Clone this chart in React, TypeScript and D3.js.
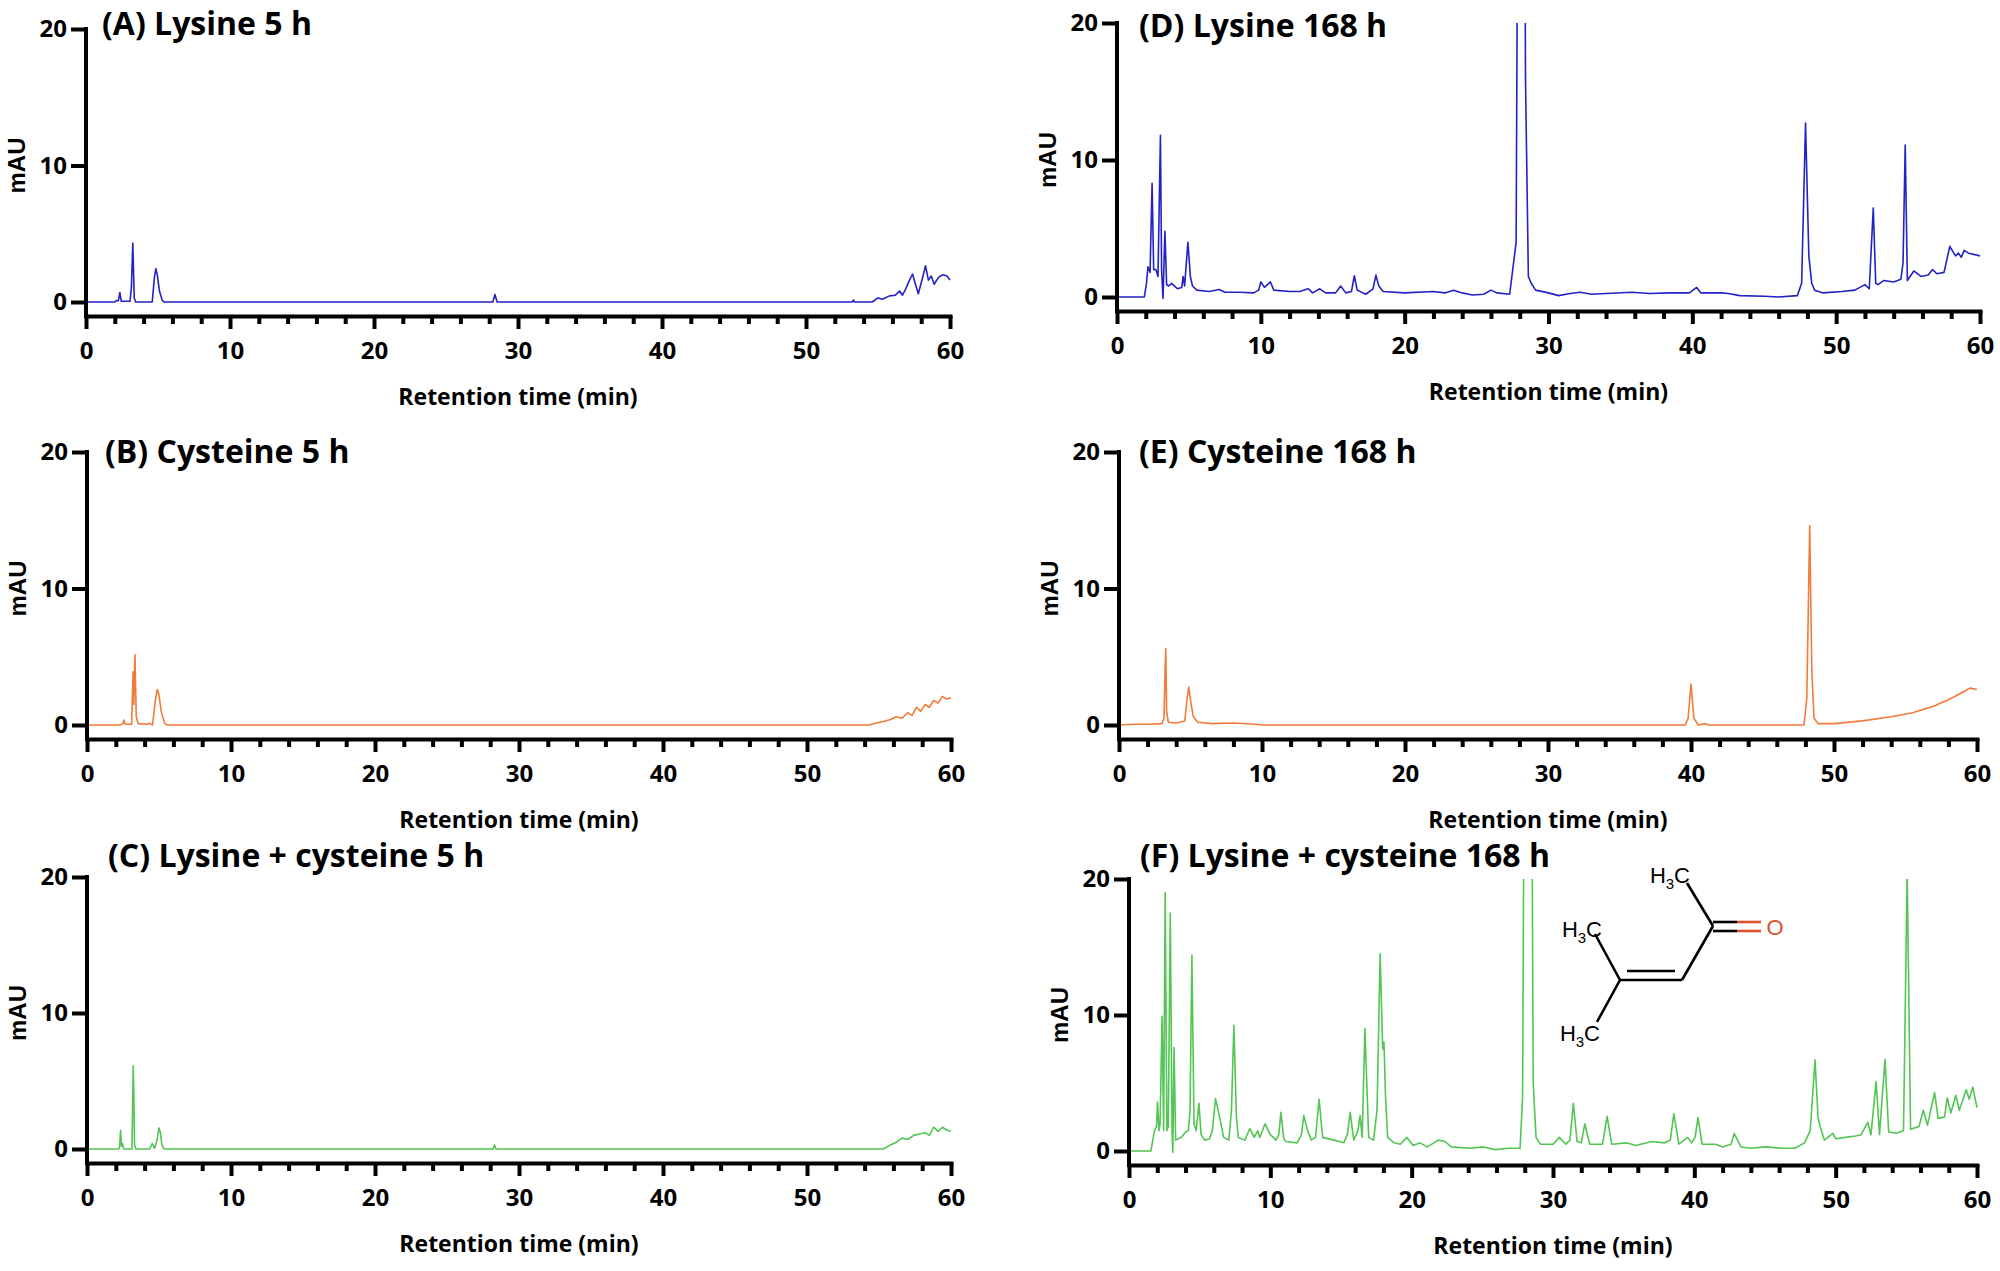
import React, { useEffect, useRef } from 'react';
import * as d3 from 'd3';

type Pt = [number, number]; // [retention time (min), absorbance (mAU)]

// (A) Lysine 5 h
const lysine5h: Pt[] = [
  [0, 0], [2.0, 0], [2.1, 0.1], [2.25, 0.1], [2.35, 0.7], [2.45, 0.05], [3.05, 0.05], [3.15, 1.0],
  [3.25, 4.3], [3.35, 0.3], [3.45, 0], [4.6, 0], [4.75, 1.8], [4.85, 2.45], [4.95, 2.0], [5.1, 0.8],
  [5.3, 0.1], [5.45, 0], [28.25, 0], [28.4, 0.55], [28.55, 0], [53.2, 0], [53.3, 0.15], [53.35, 0],
  [54.6, 0], [55.0, 0.3], [55.3, 0.2], [55.8, 0.45], [56.2, 0.5], [56.5, 0.8], [56.7, 0.5], [56.9, 0.9],
  [57.1, 1.4], [57.4, 2.05], [57.6, 1.3], [57.8, 0.6], [58.1, 1.8], [58.3, 2.65], [58.5, 1.6], [58.7, 1.9],
  [58.9, 1.3], [59.2, 1.8], [59.5, 2.0], [59.8, 1.9], [60, 1.6],
];

// (B) Cysteine 5 h
const cysteine5h: Pt[] = [
  [0, 0], [2.3, 0], [2.5, 0.1], [2.56, 0.37], [2.65, 0.05], [3.1, 0.05], [3.2, 3.9], [3.25, 1.5],
  [3.33, 5.15], [3.42, 0.6], [3.55, 0.1], [4.2, 0.05], [4.37, 0.12], [4.55, 0], [4.75, 1.8], [4.88, 2.6],
  [5.0, 2.2], [5.15, 1.0], [5.4, 0.1], [5.6, 0], [54.3, 0], [54.8, 0.15], [55.3, 0.25], [55.8, 0.4],
  [56.2, 0.6], [56.6, 0.5], [57.0, 0.9], [57.3, 0.7], [57.6, 1.3], [57.9, 1.0], [58.2, 1.5], [58.5, 1.3],
  [58.8, 1.8], [59.1, 1.6], [59.4, 2.1], [59.7, 1.9], [60, 2.0],
];

// (C) Lysine + cysteine 5 h
const mix5h: Pt[] = [
  [0, 0], [2.2, 0], [2.27, 0.2], [2.33, 1.37], [2.4, 0.2], [2.46, 0.4], [2.55, 0], [3.12, 0],
  [3.18, 4.0], [3.21, 6.1], [3.25, 4.2], [3.3, 0.3], [3.4, 0], [4.35, 0], [4.53, 0.4], [4.7, 0.05],
  [4.85, 0.6], [5.0, 1.55], [5.1, 1.2], [5.2, 0.3], [5.35, 0], [28.2, 0], [28.3, 0.3], [28.4, 0],
  [55.3, 0], [55.8, 0.3], [56.2, 0.5], [56.6, 0.8], [57.0, 0.7], [57.4, 1.0], [57.8, 1.1], [58.2, 1.2],
  [58.5, 1.0], [58.8, 1.6], [59.1, 1.3], [59.4, 1.6], [59.7, 1.4], [60, 1.3],
];

// (D) Lysine 168 h
const lysine168h: Pt[] = [
  [0, 0], [1.9, 0], [2.05, 1.0], [2.15, 2.2], [2.3, 1.8], [2.44, 8.3], [2.55, 2.0], [2.7, 2.0],
  [2.85, 1.5], [3.02, 11.8], [3.1, 2.0], [3.2, -0.1], [3.33, 4.8], [3.45, 0.9], [3.6, 0.8], [3.8, 1.0],
  [4.2, 0.6], [4.5, 0.7], [4.6, 1.5], [4.7, 0.8], [4.93, 4.0], [5.1, 1.5], [5.25, 0.8], [5.55, 0.5],
  [6.4, 0.4], [7.1, 0.55], [7.5, 0.35], [8.5, 0.35], [9.5, 0.3], [9.85, 0.5], [10.0, 1.1], [10.25, 0.7],
  [10.67, 1.1], [10.9, 0.5], [12.0, 0.4], [12.7, 0.4], [13.3, 0.6], [13.6, 0.3], [14.1, 0.6], [14.5, 0.3],
  [15.2, 0.3], [15.55, 0.8], [15.9, 0.3], [16.3, 0.4], [16.5, 1.55], [16.7, 0.5], [17.3, 0.2], [17.8, 0.6],
  [18.0, 1.6], [18.2, 0.8], [18.5, 0.4], [20.0, 0.3], [22.0, 0.4], [22.8, 0.3], [23.4, 0.5], [24.0, 0.3],
  [24.7, 0.15], [25.5, 0.2], [26.0, 0.5], [26.4, 0.3], [27.3, 0.2], [27.75, 4.0], [27.9, 40], [28.32, 40],
  [28.4, 16], [28.6, 1.5], [28.8, 1.0], [29.1, 0.5], [30.0, 0.3], [30.7, 0.1], [31.5, 0.25], [32.2, 0.35],
  [33.0, 0.2], [34.0, 0.25], [35.8, 0.35], [37.0, 0.25], [38.5, 0.3], [39.8, 0.3], [40.3, 0.7], [40.6, 0.3],
  [42.0, 0.3], [42.5, 0.25], [43.3, 0.1], [45.0, 0.05], [46.0, 0.0], [47.3, 0.1], [47.6, 1.0], [47.87, 12.7],
  [48.1, 3.0], [48.3, 1.0], [48.5, 0.5], [49.1, 0.3], [50.4, 0.4], [51.3, 0.5], [52.0, 0.9], [52.3, 0.6],
  [52.58, 6.5], [52.75, 1.0], [52.9, 0.9], [53.3, 1.2], [54.0, 1.1], [54.5, 1.3], [54.65, 2.5], [54.8, 11.1],
  [54.95, 1.2], [55.4, 1.9], [55.9, 1.5], [56.4, 1.6], [56.7, 2.0], [57.0, 1.7], [57.5, 1.8], [57.9, 3.7],
  [58.3, 3.0], [58.5, 3.2], [58.7, 2.9], [58.9, 3.4], [59.2, 3.2], [60, 3.0],
];

// (E) Cysteine 168 h
const cysteine168h: Pt[] = [
  [0, 0], [1.0, 0.05], [2.0, 0.05], [3.0, 0.1], [3.15, 0.5], [3.22, 4.0], [3.27, 5.6], [3.33, 1.0],
  [3.45, 0.2], [4.0, 0.15], [4.6, 0.3], [4.75, 1.8], [4.88, 2.78], [5.0, 1.8], [5.2, 0.6], [5.5, 0.2],
  [6.5, 0.1], [8.0, 0.15], [9.5, 0.05], [10, 0], [39.6, 0], [39.8, 0.5], [40.0, 3.0], [40.2, 0.5],
  [40.5, 0], [41.0, 0.1], [41.2, 0], [47.9, 0], [48.1, 2.0], [48.3, 14.6], [48.45, 4], [48.6, 0.5],
  [48.9, 0.1], [50.0, 0.1], [52.0, 0.3], [54.0, 0.6], [55.5, 0.9], [57.0, 1.4], [58.0, 1.85], [59.0, 2.4],
  [59.5, 2.7], [60, 2.6],
];

// (F) Lysine + cysteine 168 h
const mix168h: Pt[] = [
  [0, 0], [1.55, 0], [1.8, 1.5], [1.95, 1.8], [2.02, 3.6], [2.12, 1.5], [2.2, 2.0], [2.34, 9.9],
  [2.45, 1.5], [2.56, 19.0], [2.68, 1.5], [2.78, 1.8], [2.92, 17.5], [3.05, 1.2], [3.1, -0.1], [3.19, 7.6],
  [3.3, 0.8], [3.5, 0.9], [3.7, 1.0], [4.0, 1.4], [4.2, 1.5], [4.32, 3], [4.45, 14.4], [4.6, 2],
  [4.75, 1.5], [4.95, 3.5], [5.1, 1.2], [5.35, 0.8], [5.7, 0.9], [5.9, 1.5], [6.12, 3.85], [6.39, 2.6],
  [6.7, 1.0], [7.06, 0.8], [7.25, 3], [7.42, 9.25], [7.6, 2.5], [7.74, 1.0], [8.2, 0.8], [8.55, 1.65],
  [8.86, 1.0], [9.1, 1.5], [9.25, 1.0], [9.63, 2.0], [10.0, 1.2], [10.4, 0.8], [10.6, 1.2], [10.75, 2.85],
  [10.95, 0.9], [11.1, 0.7], [11.9, 0.6], [12.2, 1.2], [12.37, 2.6], [12.64, 1.5], [12.9, 0.8], [13.2, 1.0],
  [13.45, 3.8], [13.7, 1.0], [14.5, 0.8], [15.2, 0.6], [15.45, 1.2], [15.65, 2.85], [15.9, 0.8], [16.2, 1.5],
  [16.35, 2.6], [16.5, 1.0], [16.69, 9.0], [16.96, 1.0], [17.3, 0.8], [17.55, 3], [17.77, 14.5], [17.95, 7.5],
  [18.04, 8.0], [18.15, 4], [18.3, 1.0], [18.76, 0.6], [19.2, 0.5], [19.66, 1.0], [20.1, 0.4], [20.6, 0.6],
  [21.1, 0.3], [21.9, 0.8], [22.36, 0.7], [22.8, 0.3], [24.16, 0.2], [25.06, 0.3], [25.9, 0.1], [26.86, 0.2],
  [27.67, 0.2], [27.85, 4], [28.0, 40], [28.45, 40], [28.6, 5], [28.8, 1.0], [29.1, 0.5], [30.0, 0.5],
  [30.45, 1.0], [30.9, 0.5], [31.2, 0.8], [31.44, 3.5], [31.7, 0.7], [32.0, 0.6], [32.25, 2.0], [32.6, 0.5],
  [33.5, 0.5], [33.83, 2.55], [34.15, 0.5], [35.2, 0.6], [35.85, 0.4], [37.0, 0.7], [37.9, 0.6], [38.3, 0.8],
  [38.55, 2.75], [38.9, 0.5], [39.54, 1.0], [39.8, 0.6], [40.05, 1.0], [40.26, 2.45], [40.55, 0.5], [41.5, 0.5],
  [42.0, 0.3], [42.6, 0.5], [42.82, 1.28], [43.3, 0.3], [44.0, 0.2], [45.07, 0.3], [46.2, 0.2], [47.1, 0.2],
  [47.8, 0.6], [48.2, 1.5], [48.54, 6.7], [48.75, 2.5], [48.9, 1.8], [49.2, 0.8], [49.8, 1.3], [50.0, 0.9],
  [50.7, 1.0], [51.4, 1.1], [51.8, 1.2], [52.27, 2.1], [52.5, 1.2], [52.86, 5.1], [53.1, 1.2], [53.49, 6.75],
  [53.75, 1.4], [54.3, 1.3], [54.8, 1.5], [55.06, 20.5], [55.3, 1.6], [55.9, 1.8], [56.2, 3.0], [56.5, 1.9],
  [57.0, 4.3], [57.25, 2.4], [57.7, 2.5], [57.9, 3.9], [58.15, 2.8], [58.5, 4.1], [58.75, 3.0], [59.24, 4.5],
  [59.45, 3.8], [59.7, 4.7], [59.9, 3.7], [60, 3.2],
];

const titles = [
  '(A) Lysine 5 h',
  '(B) Cysteine 5 h',
  '(C) Lysine + cysteine 5 h',
  '(D) Lysine 168 h',
  '(E) Cysteine 168 h',
  '(F) Lysine + cysteine 168 h',
];
const xTicks = [0, 10, 20, 30, 40, 50, 60];
const xMinorTicks = d3.range(2, 60, 2).filter(t => t % 10 !== 0);
const yTicks = [0, 10, 20];

const BLUE = '#2222c6';
const ORANGE = '#f27a3a';
const GREEN = '#52c552';
const LABEL_FONT = '"Open Sans", Lato, sans-serif';
const ARIAL = '"Liberation Sans", Arial, sans-serif';

// panel layout (pixels)
const panels = [
  { data: lysine5h, title: titles[0], color: BLUE, left: 86, right: 950, top: 29, zero: 302, tx: 102, ty: 24 },
  { data: cysteine5h, title: titles[1], color: ORANGE, left: 87, right: 951, top: 452, zero: 725, tx: 105, ty: 452 },
  { data: mix5h, title: titles[2], color: GREEN, left: 87, right: 951, top: 877, zero: 1149, tx: 108, ty: 856 },
  { data: lysine168h, title: titles[3], color: BLUE, left: 1117, right: 1980, top: 23, zero: 297, tx: 1139, ty: 26 },
  { data: cysteine168h, title: titles[4], color: ORANGE, left: 1119, right: 1977, top: 452, zero: 725, tx: 1139, ty: 452 },
  { data: mix168h, title: titles[5], color: GREEN, left: 1129, right: 1977, top: 879, zero: 1151, tx: 1140, ty: 856 },
];

// 4-methylpent-3-en-2-one sketch drawn in panel F
const moleculeBonds: [number, number, number, number, string][] = [
  [1687, 883, 1713, 926, '#000'],
  [1713, 922, 1737, 922, '#000'],
  [1713, 931, 1737, 931, '#000'],
  [1737, 922, 1761, 922, '#e0512a'],
  [1737, 931, 1761, 931, '#e0512a'],
  [1713, 926, 1682, 980, '#000'],
  [1620, 980, 1682, 980, '#000'],
  [1627, 971, 1675, 971, '#000'],
  [1620, 980, 1595, 934, '#000'],
  [1620, 980, 1597, 1022, '#000'],
];
const methylLabels: [number, number][] = [[1690, 875], [1602, 929], [1600, 1033]];

export default function App() {
  const svgRef = useRef<SVGSVGElement | null>(null);

  useEffect(() => {
    if (!svgRef.current) return;
    const svg = d3.select(svgRef.current);
    svg.selectAll('*').remove();
    const defs = svg.append('defs');

    panels.forEach((p, i) => {
      const g = svg.append('g');
      const axisY = p.zero + 14;

      const x = d3.scaleLinear().domain([0, 60]).range([p.left, p.right]);
      const y = d3.scaleLinear().domain([0, 20]).range([p.zero, p.top]);

      defs.append('clipPath').attr('id', `clip-${i}`)
        .append('rect')
        .attr('x', p.left).attr('y', y(20))
        .attr('width', p.right - p.left + 2).attr('height', axisY - y(20) - 2);

      // Chromatogram trace
      const line = d3.line<Pt>().x(d => x(d[0])).y(d => y(d[1]));
      g.append('path')
        .datum(p.data)
        .attr('clip-path', `url(#clip-${i})`)
        .attr('fill', 'none')
        .attr('stroke', p.color)
        .attr('stroke-width', 1.6)
        .attr('stroke-linejoin', 'round')
        .attr('d', line);

      // X axis (major + minor ticks)
      const xAxis = g.append('g')
        .attr('transform', `translate(0,${axisY})`)
        .call(d3.axisBottom(x).tickValues(xTicks).tickSize(13).tickSizeOuter(0).tickPadding(13));
      xAxis.select('.domain').attr('stroke-width', 4).attr('stroke-linecap', 'square').attr('stroke', '#000');
      xAxis.selectAll('.tick line').attr('stroke-width', 4).attr('stroke', '#000');
      xAxis.selectAll('text')
        .attr('font-family', LABEL_FONT).attr('font-weight', 700).attr('font-size', 24).attr('fill', '#000');

      const xMinor = g.append('g')
        .attr('transform', `translate(0,${axisY})`)
        .call(d3.axisBottom(x).tickValues(xMinorTicks).tickSize(8).tickFormat(() => ''));
      xMinor.select('.domain').remove();
      xMinor.selectAll('.tick line').attr('stroke-width', 4).attr('stroke', '#000');

      // Y axis
      const yAxis = g.append('g')
        .attr('transform', `translate(${p.left},0)`)
        .call(d3.axisLeft(y).tickValues(yTicks).tickSize(15).tickSizeOuter(0).tickPadding(4));
      yAxis.select('.domain').remove();
      yAxis.selectAll('.tick line').attr('stroke-width', 4).attr('stroke', '#000');
      yAxis.selectAll('text')
        .attr('font-family', LABEL_FONT).attr('font-weight', 700).attr('font-size', 24).attr('fill', '#000');
      g.append('line')
        .attr('x1', p.left).attr('x2', p.left)
        .attr('y1', y(20)).attr('y2', axisY)
        .attr('stroke', '#000').attr('stroke-width', 4).attr('stroke-linecap', 'square');

      // Labels
      g.append('text')
        .attr('transform', `translate(${p.left - 69},${(y(20) + y(0)) / 2}) rotate(-90)`)
        .attr('text-anchor', 'middle').attr('dy', '0.35em')
        .attr('font-family', ARIAL).attr('font-weight', 700).attr('font-size', 24)
        .text('mAU');

      g.append('text')
        .attr('x', (p.left + p.right) / 2).attr('y', axisY + 81)
        .attr('text-anchor', 'middle').attr('dy', '0.35em')
        .attr('font-family', LABEL_FONT).attr('font-weight', 700).attr('font-size', 23)
        .text('Retention time (min)');

      g.append('text')
        .attr('x', p.tx).attr('y', p.ty).attr('dy', '0.35em')
        .attr('font-family', LABEL_FONT).attr('font-weight', 700).attr('font-size', 32)
        .text(p.title);
    });

    // Molecule inset
    const mol = svg.append('g');
    moleculeBonds.forEach(([x1, y1, x2, y2, c]) => {
      mol.append('line')
        .attr('x1', x1).attr('y1', y1).attr('x2', x2).attr('y2', y2)
        .attr('stroke', c).attr('stroke-width', 2.6);
    });
    methylLabels.forEach(([lx, ly]) => {
      const t = mol.append('text')
        .attr('x', lx).attr('y', ly).attr('dy', '0.36em').attr('text-anchor', 'end')
        .attr('font-family', ARIAL).attr('font-size', 22);
      t.append('tspan').text('H');
      t.append('tspan').attr('font-size', 15).attr('dy', 6).text('3');
      t.append('tspan').attr('dy', -6).text('C');
    });
    mol.append('text')
      .attr('x', 1775).attr('y', 927).attr('dy', '0.36em').attr('text-anchor', 'middle')
      .attr('font-family', ARIAL).attr('font-size', 22)
      .attr('fill', '#e0512a')
      .text('O');
  }, []);

  return (
    <svg
      ref={svgRef}
      width={2000}
      height={1271}
      style={{ position: 'absolute', left: 0, top: 0, background: '#fff' }}
    />
  );
}
